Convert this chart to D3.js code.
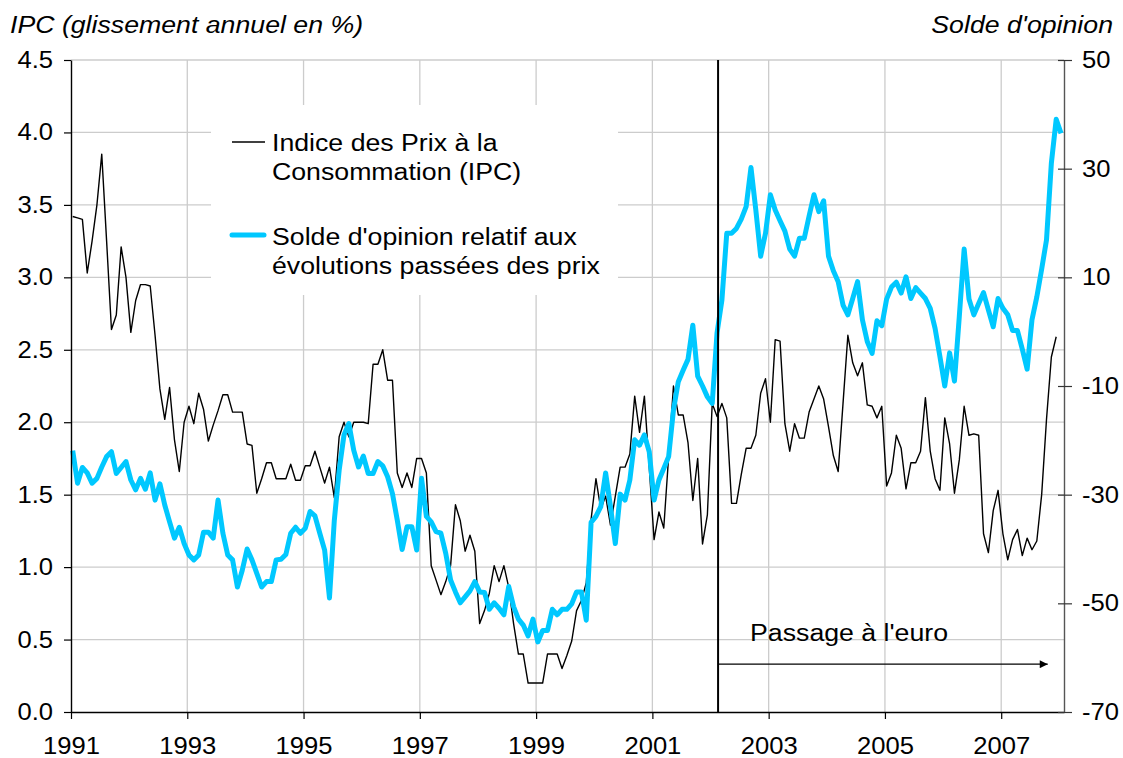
<!DOCTYPE html>
<html><head><meta charset="utf-8">
<script src="https://cdn.jsdelivr.net/npm/d3@7"></script>
<style>
body{margin:0;background:#fff}
svg{display:block}
text{font-family:"Liberation Sans",Arial,sans-serif;fill:#000;transform-box:fill-box;transform:scaleX(1.09)}
.a-start{transform-origin:left center}
.a-end{transform-origin:right center}
.a-mid{transform-origin:center center}
</style>
</head><body>
<svg id="c" width="1123" height="758"></svg>
<script>
// ---------- data ----------
const startYear = 1991;               // first month: January 1991 (monthly series)
const yearTicks = [1991,1993,1995,1997,1999,2001,2003,2005,2007];
const ipcTicks = [0,0.5,1,1.5,2,2.5,3,3.5,4,4.5];
const soldeTicks = [-70,-50,-30,-10,10,30,50];

// IPC, glissement annuel en % (monthly, Jan 1991 - Dec 2007)
const ipc = [
 3.42,3.41,3.40,3.03,3.25,3.50,3.85,3.25,2.64,2.74,3.21,3.00,
 2.62,2.84,2.95,2.95,2.94,2.60,2.23,2.02,2.24,1.88,1.66,2.00,
 2.11,1.99,2.20,2.09,1.87,1.98,2.08,2.19,2.19,2.07,2.07,2.07,
 1.85,1.84,1.51,1.61,1.72,1.72,1.61,1.61,1.61,1.71,1.60,1.60,
 1.70,1.70,1.80,1.69,1.58,1.69,1.48,1.90,2.00,1.90,2.00,2.00,
 2.00,1.99,2.40,2.40,2.50,2.29,2.29,1.65,1.55,1.65,1.55,1.75,
 1.75,1.65,1.01,0.91,0.81,0.90,1.01,1.43,1.32,1.11,1.22,1.11,
 0.61,0.70,0.82,1.01,0.90,1.01,0.86,0.61,0.40,0.40,0.20,0.20,
 0.20,0.20,0.40,0.40,0.40,0.30,0.39,0.49,0.70,0.77,0.89,1.33,
 1.61,1.40,1.49,1.29,1.49,1.69,1.69,1.78,2.18,1.93,2.18,1.69,
 1.19,1.38,1.27,1.76,2.25,2.05,2.05,1.86,1.46,1.75,1.16,1.36,
 2.13,2.04,2.13,2.03,1.44,1.44,1.64,1.82,1.82,1.91,2.20,2.30,
 2.00,2.57,2.56,1.99,1.80,1.99,1.89,1.89,2.07,2.16,2.25,2.16,
 1.97,1.77,1.66,2.13,2.60,2.41,2.32,2.41,2.12,2.11,2.03,2.11,
 1.56,1.65,1.91,1.82,1.54,1.72,1.72,1.80,2.17,1.80,1.61,1.53,
 2.03,1.85,1.51,1.74,2.11,1.91,1.92,1.91,1.23,1.10,1.39,1.53,
 1.23,1.05,1.19,1.26,1.08,1.20,1.12,1.18,1.50,2.02,2.45,2.59
];

// Solde d'opinion relatif aux évolutions passées des prix (monthly, Jan 1991 - Jan 2008)
const solde = [
 -21.9,-27.9,-25.0,-26.0,-27.9,-27.0,-24.9,-23.0,-22.1,-26.1,-25.0,-23.9,
 -27.3,-29.1,-27.0,-29.0,-26.0,-31.0,-28.0,-31.9,-35.0,-38.0,-36.0,-39.0,
 -41.1,-42.0,-41.1,-36.9,-36.9,-38.0,-31.0,-37.1,-41.1,-42.0,-47.0,-43.9,
 -40.0,-42.0,-44.5,-47.0,-46.0,-46.0,-42.0,-41.9,-41.0,-37.1,-36.0,-37.1,
 -36.2,-33.1,-33.9,-37.1,-40.2,-49.0,-34.7,-25.5,-19.0,-16.9,-21.8,-24.9,
 -22.9,-26.1,-26.1,-23.9,-24.7,-26.7,-29.8,-34.7,-40.1,-35.9,-35.9,-40.2,
 -27.0,-34.0,-35.0,-36.8,-37.1,-40.8,-45.7,-47.9,-49.9,-48.8,-47.7,-46.0,
 -47.9,-48.0,-51.1,-49.9,-50.9,-52.1,-46.9,-50.6,-52.9,-54.0,-56.0,-52.9,
 -57.1,-55.0,-55.0,-51.1,-52.1,-51.1,-51.1,-50.1,-47.9,-47.9,-53.1,-35.1,
 -34.0,-32.2,-26.0,-32.2,-39.0,-29.9,-31.0,-27.3,-19.9,-20.9,-19.0,-22.1,
 -31.0,-27.3,-25.2,-23.0,-14.4,-9.2,-7.1,-5.1,1.2,-8.2,-10.0,-12.0,
 -13.2,-0.2,5.8,18.1,18.1,19.0,20.7,23.0,30.2,22.4,13.9,18.1,
 25.2,22.4,20.4,18.5,15.2,13.9,17.2,17.2,21.3,25.2,22.1,24.1,
 13.9,11.2,9.2,4.9,3.1,6.1,9.2,2.2,-1.8,-4.0,2.0,1.1,
 6.0,8.2,9.1,7.1,10.1,6.1,8.1,7.1,6.1,4.3,0.6,-4.6,
 -10.0,-3.9,-9.1,2.8,15.2,6.0,3.1,5.2,7.2,4.0,0.9,6.1,
 4.3,3.1,0.2,0.2,-3.2,-6.9,2.2,6.4,11.5,16.9,31.0,39.1,
 36.5
];

const euroDate = 2002.13;       // passage à l'euro
const euroArrowEnd = 2007.8;
const euroArrowLevel = 0.33;    // in IPC units
const euroLabel = "Passage à l'euro";
const leftTitle = "IPC (glissement annuel en %)";
const rightTitle = "Solde d'opinion";
const legendLabels = [["Indice des Prix à la","Consommation (IPC)"],
                      ["Solde d'opinion relatif aux","évolutions passées des prix"]];

// ---------- chart ----------
const svg = d3.select("#c");
const L = 71, R = 1064, T = 60, B = 712;
const blue = "#00c8ff";

const x = d3.scaleLinear().domain([1991, 2008.08]).range([L, R]);
const yL = d3.scaleLinear().domain([0, 4.5]).range([B, T]);
const yR = d3.scaleLinear().domain([-70, 50]).range([B, T]);
const tDate = i => startYear + (i + 0.35) / 12;

// gridlines
const grid = svg.append("g");
grid.selectAll("line.h").data(ipcTicks.filter(d => d > 0)).join("line")
  .attr("x1", L).attr("x2", R).attr("y1", d => yL(d)).attr("y2", d => yL(d))
  .attr("stroke", "#cccccc").attr("stroke-width", 1.3);
grid.selectAll("line.v").data(yearTicks.filter(d => d > 1991)).join("line")
  .attr("x1", d => x(d)).attr("x2", d => x(d)).attr("y1", T).attr("y2", B)
  .attr("stroke", "#cccccc").attr("stroke-width", 1.3);

// legend box (covers gridlines)
const leg = svg.append("g");
leg.append("rect").attr("x", 211).attr("y", 105).attr("width", 407).attr("height", 190).attr("fill", "#fff");

// lines
const lineIpc = d3.line().x((d, i) => x(tDate(i))).y(d => yL(d));
const lineSolde = d3.line().x((d, i) => x(tDate(i))).y(d => yR(d));
svg.append("path").datum(ipc).attr("d", lineIpc).attr("fill", "none")
  .attr("stroke", "#000").attr("stroke-width", 1.4).attr("stroke-linejoin", "round");
svg.append("path").datum(solde).attr("d", lineSolde).attr("fill", "none")
  .attr("stroke", blue).attr("stroke-width", 5).attr("stroke-linejoin", "round");

// euro vertical line
svg.append("line").attr("x1", x(euroDate)).attr("x2", x(euroDate)).attr("y1", T).attr("y2", B)
  .attr("stroke", "#000").attr("stroke-width", 2);

// arrow
svg.append("defs").append("marker").attr("id", "arr").attr("viewBox", "0 0 10 10")
  .attr("refX", 10).attr("refY", 5).attr("markerWidth", 10).attr("markerHeight", 8)
  .attr("markerUnits", "userSpaceOnUse").attr("orient", "auto")
  .append("path").attr("d", "M0,0L10,5L0,10Z").attr("fill", "#000");
svg.append("line").attr("x1", x(euroDate)).attr("x2", x(euroArrowEnd))
  .attr("y1", yL(euroArrowLevel)).attr("y2", yL(euroArrowLevel))
  .attr("stroke", "#000").attr("stroke-width", 1.2).attr("marker-end", "url(#arr)");
svg.append("text").attr("class", "a-start").attr("x", x(euroDate) + 32).attr("y", 641)
  .style("font-size", "24.5px").text(euroLabel);

// axes
const axL = svg.append("g").attr("transform", `translate(${L},0)`)
  .call(d3.axisLeft(yL).tickValues(ipcTicks).tickFormat(d3.format(".1f")).tickSize(7).tickSizeOuter(0).tickPadding(11));
axL.select(".domain").attr("stroke", "#000").attr("stroke-width", 1.4);
axL.selectAll(".tick line").attr("stroke", "#000").attr("stroke-width", 1.2);
axL.selectAll(".tick text").attr("class", "a-end").style("font-size", "23.5px").attr("font-family", null);

const axB = svg.append("g").attr("transform", `translate(0,${B})`)
  .call(d3.axisBottom(x).tickValues(yearTicks).tickFormat(d => String(d)).tickSize(7).tickSizeOuter(0).tickPadding(18));
axB.select(".domain").attr("stroke", "#000").attr("stroke-width", 1.6);
axB.selectAll(".tick line").attr("stroke", "#000").attr("stroke-width", 1.2);
axB.selectAll(".tick text").attr("class", "a-mid").style("font-size", "23.5px").attr("font-family", null);

const axR = svg.append("g").attr("transform", `translate(${R},0)`)
  .call(d3.axisRight(yR).tickValues(soldeTicks).tickFormat(d => String(d)).tickSize(8).tickSizeOuter(0).tickPadding(10));
axR.select(".domain").attr("stroke", "#555").attr("stroke-width", 1.4);
axR.selectAll(".tick line").attr("x1", -6).attr("stroke", "#333").attr("stroke-width", 1.2);
axR.selectAll(".tick text").attr("class", "a-start").style("font-size", "23.5px").attr("font-family", null);
svg.selectAll(".tick text").attr("fill", "#000");

// titles
svg.append("text").attr("class", "a-start").attr("x", 10).attr("y", 33)
  .style("font-size", "24.5px").style("font-style", "italic").text(leftTitle);
svg.append("text").attr("class", "a-end").attr("x", 1113).attr("y", 33).attr("text-anchor", "end")
  .style("font-size", "24.5px").style("font-style", "italic").text(rightTitle);

// legend content
leg.append("line").attr("x1", 232).attr("x2", 265).attr("y1", 142).attr("y2", 142)
  .attr("stroke", "#000").attr("stroke-width", 1.4);
leg.append("line").attr("x1", 232).attr("x2", 264).attr("y1", 235).attr("y2", 235)
  .attr("stroke", blue).attr("stroke-width", 5).attr("stroke-linecap", "round");
const legY = [[151, 180], [245, 274]];
legendLabels.forEach((lines, k) => {
  lines.forEach((s, j) => {
    svg.append("text").attr("class", "a-start").attr("x", 272).attr("y", legY[k][j])
      .style("font-size", "24.5px").text(s);
  });
});
</script>
</body></html>
